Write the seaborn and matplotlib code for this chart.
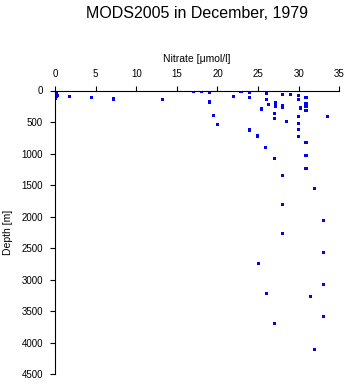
import matplotlib
matplotlib.use("Agg")
import matplotlib.pyplot as plt
import seaborn as sns
import pandas as pd

nitrate = [0.0, 0.1, 0.0, 0.2, 0.1, 0.3, 0.2, 0.1,
           0.8, 1.8, 4.5, 7.2, 13.2, 15.9, 17.0, 18.0, 19.0, 20.0, 22.0,
           19.0, 19.5, 20.0, 22.9, 23.9, 23.9, 26.0, 26.0, 25.4, 26.3,
           27.1, 27.1, 28.0, 28.0, 28.0, 29.0, 30.0, 30.0, 30.2, 30.9,
           30.9, 30.9, 30.9, 27.0, 27.0, 28.5, 30.0, 33.5, 30.0, 30.0,
           30.0, 30.9, 23.9, 24.9, 25.9, 30.9, 27.0, 30.9, 28.0, 31.9,
           28.0, 33.0, 28.0, 33.0, 25.0, 33.0, 26.0, 31.4, 33.0, 27.0, 31.9]
depth = [0, 10, 20, 30, 50, 75, 100, 125,
         0, 92, 108, 135, 140, 0, 8, 13, 24, 0, 92,
         183, 394, 537, 13, 29, 108, 44, 140, 294, 219,
         187, 246, 67, 246, 273, 60, 76, 146, 278, 108,
         203, 257, 314, 362, 448, 489, 410, 410, 521, 616,
         727, 822, 627, 722, 902, 1029, 1076, 1235, 1346, 1548,
         1806, 2060, 2273, 2568, 2743, 3076, 3222, 3268, 3584, 3695, 4103]

x_ticks = [0, 5, 10, 15, 20, 25, 30, 35]
y_ticks = [0, 500, 1000, 1500, 2000, 2500, 3000, 3500, 4000, 4500]

df = pd.DataFrame({"Nitrate": nitrate, "Depth": depth})

sns.set_style("ticks")
plt.rcParams["font.family"] = ["Liberation Sans", "DejaVu Sans"]
plt.rcParams["text.color"] = "black"
plt.rcParams["axes.labelcolor"] = "black"
plt.rcParams["xtick.color"] = "black"
plt.rcParams["ytick.color"] = "black"

fig = plt.figure(figsize=(3.48, 3.84), dpi=100)
ax = fig.add_axes([55/348, 1 - 374.3/384, (339.3 - 55)/348, (374.3 - 90.5)/384])

sns.scatterplot(data=df, x="Nitrate", y="Depth", ax=ax, marker="s", s=5,
                color="#0000FF", linewidth=0, edgecolor="none")

ax.set_xlim(0, 35)
ax.set_ylim(4500, 0)
ax.set_xticks(x_ticks)
ax.set_yticks(y_ticks)
ax.xaxis.tick_top()
ax.xaxis.set_label_position("top")
ax.set_xlabel("Nitrate [\u03bcmol/l]", fontsize=7.5, labelpad=5)
ax.set_ylabel("Depth [m]", fontsize=7.5, labelpad=6)
ax.tick_params(axis="both", labelsize=7, length=3.6, width=0.8,
               colors="black", direction="out", pad=5)
for side in ["right", "bottom"]:
    ax.spines[side].set_visible(False)
for side in ["left", "top"]:
    ax.spines[side].set_color("black")
    ax.spines[side].set_linewidth(0.8)

fig.text((55 + 339.3) / 2 / 348, 1 - 13/384, "MODS2005 in December, 1979",
         ha="center", va="center", fontsize=11.5, color="black")

fig.savefig("out.png", dpi=100)
